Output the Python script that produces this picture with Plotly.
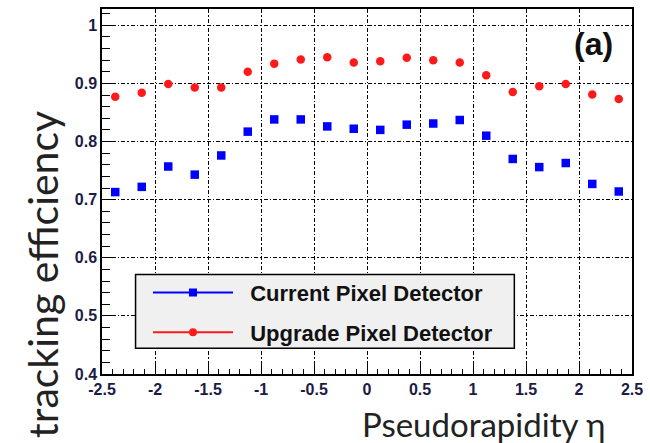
import plotly.graph_objects as go

eta = [-2.375, -2.125, -1.875, -1.625, -1.375, -1.125, -0.875, -0.625, -0.375, -0.125,
       0.125, 0.375, 0.625, 0.875, 1.125, 1.375, 1.625, 1.875, 2.125, 2.375]
current = [0.713, 0.722, 0.757, 0.743, 0.776, 0.817, 0.838, 0.838, 0.826, 0.822,
           0.820, 0.829, 0.831, 0.837, 0.810, 0.770, 0.756, 0.763, 0.727, 0.714]
upgrade = [0.877, 0.884, 0.899, 0.893, 0.893, 0.920, 0.934, 0.941, 0.945, 0.936,
           0.938, 0.944, 0.940, 0.936, 0.914, 0.885, 0.895, 0.899, 0.881, 0.873]
x_ticks = [-2.5, -2, -1.5, -1, -0.5, 0, 0.5, 1, 1.5, 2, 2.5]
x_ticklabels = ["-2.5", "-2", "-1.5", "-1", "-0.5", "0", "0.5", "1", "1.5", "2", "2.5"]
y_ticks = [0.4, 0.5, 0.6, 0.7, 0.8, 0.9, 1.0]
y_ticklabels = ["0.4", "0.5", "0.6", "0.7", "0.8", "0.9", "1"]
names = ["Current Pixel Detector", "Upgrade Pixel Detector"]

BLUE = "#0000ff"
RED = "#ff1a1a"
tickfont = dict(family="Liberation Sans", size=16, color="#1b1b44", weight="bold")

fig = go.Figure()
fig.add_trace(go.Scatter(x=eta, y=current, mode="markers", showlegend=False,
                         marker=dict(symbol="square", size=8.5, color=BLUE)))
fig.add_trace(go.Scatter(x=eta, y=upgrade, mode="markers", showlegend=False,
                         marker=dict(symbol="circle", size=8.5, color=RED)))
# legend entries
fig.add_trace(go.Scatter(x=[None], y=[None], mode="lines+markers",
                         name="\u00a0\u00a0" + names[0], legendgroup="a",
                         line=dict(color=BLUE, width=2),
                         marker=dict(symbol="square", size=8, color=BLUE)))
fig.add_trace(go.Scatter(x=[None], y=[None], mode="lines+markers",
                         name="\u00a0\u00a0" + names[1], legendgroup="b",
                         line=dict(color=RED, width=2),
                         marker=dict(symbol="circle", size=8, color=RED)))

axis_common = dict(
    showline=True, linecolor="black", linewidth=1.5, mirror=True,
    showgrid=True, gridcolor="black", gridwidth=1.2, griddash="4px,2px,1.5px,2px",
    zeroline=False, ticks="inside", tickcolor="black", tickwidth=1.2,
    tickfont=tickfont, ticklabeloverflow="allow",
)
fig.update_xaxes(range=[-2.5, 2.5], tickvals=x_ticks, ticktext=x_ticklabels,
                 ticklen=10, minor=dict(dtick=0.1, ticks="inside", ticklen=5,
                                        tickcolor="black", showgrid=False),
                 **axis_common)
fig.update_yaxes(range=[0.4, 1.028], tickvals=y_ticks, ticktext=y_ticklabels,
                 ticklen=14, minor=dict(dtick=0.02, ticks="inside", ticklen=8,
                                        tickcolor="black", showgrid=False),
                 **axis_common)

fig.add_shape(type="rect", xref="paper", yref="paper",
              x0=0.0633, x1=0.778, y0=0.0708, y1=0.2725,
              fillcolor="#f0f0f0", line=dict(color="black", width=1.5), layer="above")

fig.add_annotation(text="(a)", xref="paper", yref="paper", x=0.927, y=0.905,
                   xanchor="center", yanchor="middle",
                   showarrow=False, font=dict(family="Liberation Sans", size=32,
                                               color="#111111", weight="bold"))
fig.add_annotation(text="tracking efficiency", xref="paper", yref="paper",
                   x=-0.111, y=0.272, xanchor="center", yanchor="middle",
                   textangle=-90, showarrow=False,
                   font=dict(family="Lato", size=41, color="#222222"))
fig.add_annotation(text="Pseudorapidity η", xref="paper", yref="paper",
                   x=0.953, y=-0.077, xanchor="right", yanchor="top",
                   showarrow=False,
                   font=dict(family="Lato", size=33, color="#222222"))

fig.update_layout(
    width=650, height=443,
    margin=dict(l=102, r=11, t=7, b=69),
    paper_bgcolor="white", plot_bgcolor="white",
    legend=dict(x=0.0868, y=0.28, xanchor="left", yanchor="top",
                bgcolor="rgba(0,0,0,0)", borderwidth=0,
                itemwidth=80, tracegroupgap=8, traceorder="grouped",
                font=dict(family="Liberation Sans", size=22, color="#111111",
                          weight="bold")),
)

fig.write_html("out.html")
